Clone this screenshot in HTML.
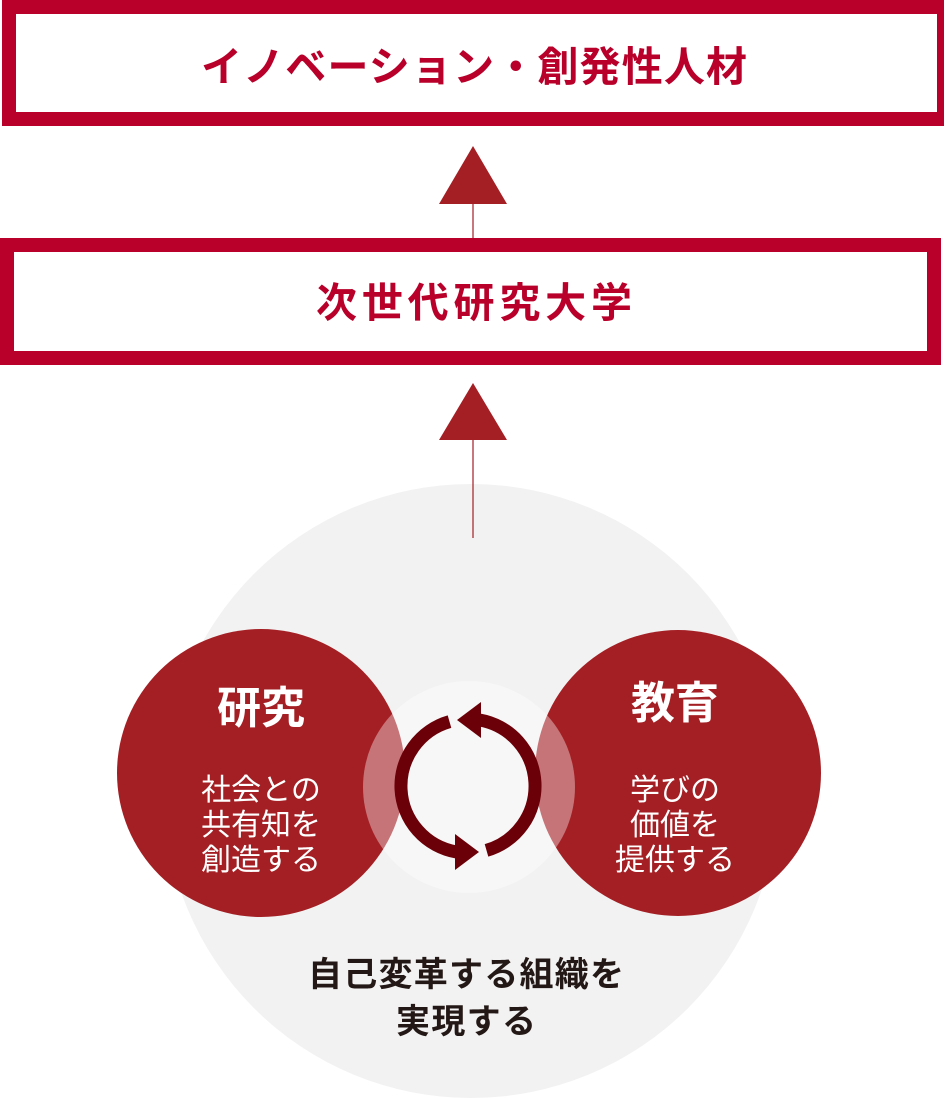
<!DOCTYPE html>
<html><head><meta charset="utf-8"><style>
html,body{margin:0;padding:0;background:#fff;}
svg{display:block;}
text{font-family:"Liberation Sans","Noto Sans CJK JP",sans-serif;}
</style></head><body>
<svg width="944" height="1100" viewBox="0 0 944 1100" xmlns="http://www.w3.org/2000/svg">
<rect x="9" y="7" width="935" height="112" fill="none" stroke="#b8002a" stroke-width="14"/>
<text x="474" y="81" text-anchor="middle" font-size="41" font-weight="bold" fill="#b8002a" textLength="546" lengthAdjust="spacing">イノベーション・創発性人材</text>
<rect x="7" y="245" width="927" height="113" fill="none" stroke="#b8002a" stroke-width="14"/>
<text x="474" y="317" text-anchor="middle" font-size="41" font-weight="bold" fill="#b8002a" textLength="316" lengthAdjust="spacing">次世代研究大学</text>
<line x1="473" y1="200" x2="473" y2="238" stroke="#a31f24" stroke-width="1.2"/>
<polygon points="473,146 507,204 439,204" fill="#a31f24"/>
<circle cx="471" cy="791" r="307" fill="#f2f2f2"/>
<line x1="473" y1="436" x2="473" y2="538" stroke="#a31f24" stroke-width="1.2"/>
<polygon points="473,383 507,440 439,440" fill="#a31f24"/>
<circle cx="261" cy="773" r="144" fill="#a31f24"/>
<circle cx="678" cy="773" r="143" fill="#a31f24"/>
<circle cx="469" cy="787" r="106" fill="#fff" fill-opacity="0.38"/>
<path d="M479.6,720 A67,67 0 0 1 486.5,850.4" fill="none" stroke="#6b0008" stroke-width="13"/>
<polygon points="457,720 481,702 481,738" fill="#6b0008"/>
<path d="M456.4,852 A67,67 0 0 1 449.5,721.6" fill="none" stroke="#6b0008" stroke-width="13"/>
<polygon points="479,852 455,834 455,870" fill="#6b0008"/>
<text x="261" y="723" text-anchor="middle" font-size="44" font-weight="bold" fill="#fff">研究</text>
<text x="261" y="800" text-anchor="middle" font-size="30" fill="#fff">社会との</text>
<text x="261" y="835" text-anchor="middle" font-size="30" fill="#fff">共有知を</text>
<text x="261" y="870" text-anchor="middle" font-size="30" fill="#fff">創造する</text>
<text x="675" y="718" text-anchor="middle" font-size="44" font-weight="bold" fill="#fff">教育</text>
<text x="675" y="800" text-anchor="middle" font-size="30" fill="#fff">学びの</text>
<text x="675" y="835" text-anchor="middle" font-size="30" fill="#fff">価値を</text>
<text x="675" y="870" text-anchor="middle" font-size="30" fill="#fff">提供する</text>
<text x="466" y="986" text-anchor="middle" font-size="34" font-weight="bold" fill="#231815" textLength="316" lengthAdjust="spacing">自己変革する組織を</text>
<text x="466" y="1033" text-anchor="middle" font-size="34" font-weight="bold" fill="#231815" textLength="140" lengthAdjust="spacing">実現する</text>
</svg>
</body></html>
